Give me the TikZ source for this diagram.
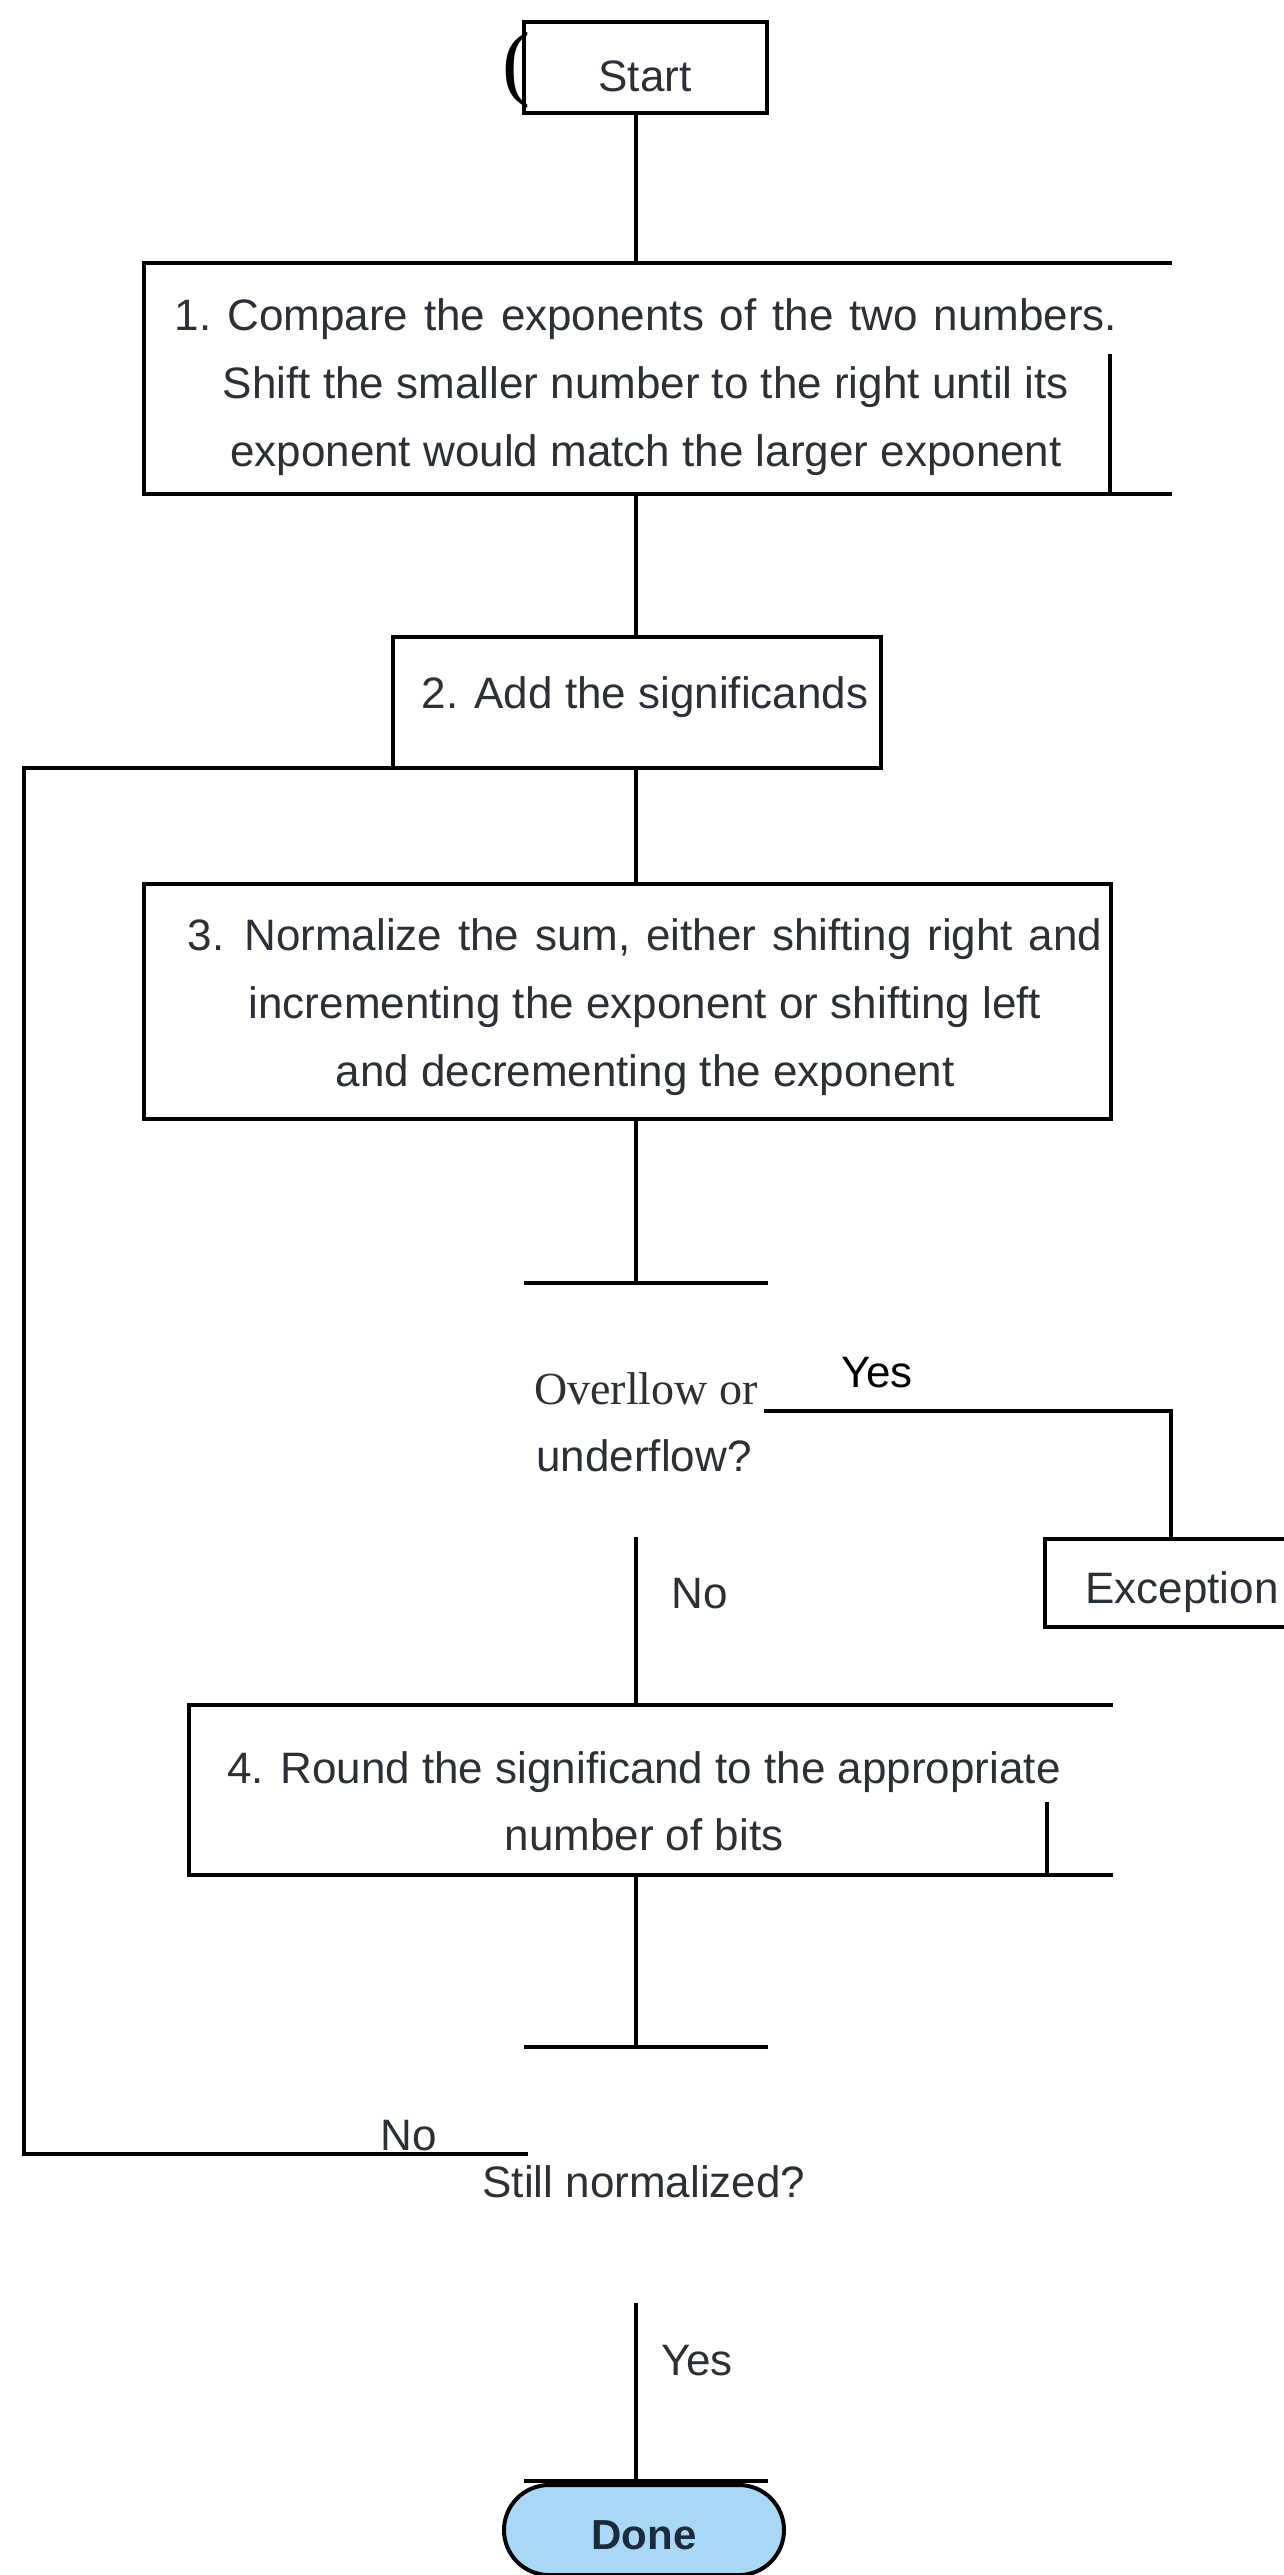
\documentclass[tikz,border=0pt]{standalone}
\usepackage{fontspec}
\setmainfont{Liberation Sans}
\newfontfamily\serifx{Liberation Serif}
\definecolor{txt}{HTML}{2B3036}
\definecolor{doneblue}{HTML}{A8D8F6}
\definecolor{donetxt}{HTML}{1B2B3C}
\newcommand\widespaces{\spaceskip=0.36em plus 0.1em\relax}
\begin{document}
\begin{tikzpicture}[x=1pt,y=-1pt,line width=4pt,line cap=rect,
  lbl/.style={inner sep=0,text=txt,font=\fontsize{44}{68}\selectfont,align=center},
  boxx/.style={draw,inner sep=0,outer sep=0,anchor=north west},
]
\useasboundingbox (0,0) rectangle (1283,2575);
\coordinate (spine) at (636,0);

% Start
\node[boxx,minimum width=243,minimum height=91] (start) at (524,22) {};
\node[lbl] (starttxt) at (645,76) {Start};
\node[inner sep=0,text=black,font=\serifx\fontsize{84}{88}\selectfont,anchor=east] (paren) at (532,70) {(};

% Box 1 (open shape)
\coordinate (b1tl) at (144,263);
\coordinate (b1tr) at (1170,263);
\coordinate (b1bl) at (144,494);
\coordinate (b1br) at (1170,494);
\coordinate (b1v) at (1110,356);
\draw (b1tr) -- (b1tl) -- (b1bl) -- (b1br);
\draw (b1v) -- (b1v |- b1bl);
\node[lbl] (b1txt) at (646,387) {\widespaces 1.\ Compare the exponents of the two numbers.\\Shift the smaller number to the right until its\\exponent would match the larger exponent};
\draw (start.south -| spine) -- (b1tl -| spine);

% Box 2
\node[boxx,minimum width=488,minimum height=131] (box2) at (393,637) {};
\node[lbl] (b2txt) at (645,697) {2. Add the significands};
\draw (b1bl -| spine) -- (box2.north -| spine);

% Box 3
\node[boxx,minimum width=967,minimum height=235] (box3) at (144,884) {};
\node[lbl] (b3txt) at (645,1007) {\widespaces 3. Normalize the sum, either shifting right and\\incrementing the exponent or shifting left\\and decrementing the exponent};
\draw (box2.south -| spine) -- (box3.north -| spine);

% Decision 1
\coordinate (t1l) at (526,1283);
\coordinate (t1r) at (766,1283);
\draw (box3.south -| spine) -- (t1l -| spine);
\draw (t1l) -- (t1r);
\node[inner sep=0,text=txt,font=\serifx\fontsize{46}{50}\selectfont] (d1a) at (646,1389) {Overllow or};
\node[lbl] (d1b) at (644,1456) {underflow?};

% Yes -> Exception
\node[inner sep=0,text=black,font=\fontsize{44}{50}\selectfont] (yes1) at (877,1373) {Yes};
\coordinate (yesA) at (766,1411);
\coordinate (yesB) at (1171,1411);
\coordinate (exctl) at (1045,1539);
\coordinate (exctr) at (1290,1539);
\coordinate (excbl) at (1045,1627);
\coordinate (excbr) at (1290,1627);
\draw (exctr) -- (exctl) -- (excbl) -- (excbr);
\node[lbl] (exctxt) at (1182,1592) {Exception};
\draw (yesA) -- (yesB) -- (yesB |- exctl);

% No -> Box 4
\coordinate (noTop) at (636,1539);
\coordinate (b4tl) at (189,1705);
\coordinate (b4tr) at (1111,1705);
\coordinate (b4bl) at (189,1875);
\coordinate (b4br) at (1111,1875);
\coordinate (b4v) at (1047,1804);
\draw (noTop) -- (b4tl -| spine);
\node[lbl] (no1) at (700,1594) {No};
\draw (b4tr) -- (b4tl) -- (b4bl) -- (b4br);
\draw (b4v) -- (b4v |- b4bl);
\node[lbl,font=\fontsize{44}{67}\selectfont] (b4txt) at (644,1801) {4. Round the significand to the appropriate\\number of bits};

% Decision 2
\coordinate (t2l) at (526,2047);
\coordinate (t2r) at (766,2047);
\draw (b4bl -| spine) -- (t2l -| spine);
\draw (t2l) -- (t2r);
\node[lbl] (d2) at (644,2182) {Still normalized?};
\node[lbl] (no2) at (409,2136) {No};
\coordinate (d2L) at (526,2154);
\coordinate (fbL) at (24,768);
\draw (d2L) -- (d2L -| fbL) -- (fbL) -- (box2.south west);

% Yes -> Done
\coordinate (y2top) at (636,2305);
\coordinate (t3l) at (526,2481);
\coordinate (t3r) at (766,2481);
\node[lbl] (yes2) at (697,2361) {Yes};
\node[draw,fill=doneblue,rounded corners=45,minimum width=280,minimum height=90,inner sep=0,anchor=north] (done) at (644,2483) {};
\node[inner sep=0,text=donetxt,font=\bfseries\fontsize{42}{50}\selectfont] (donetxt) at (644,2535) {Done};
\draw (y2top) -- (t3l -| spine);
\draw (t3l) -- (t3r);
\end{tikzpicture}
\end{document}
